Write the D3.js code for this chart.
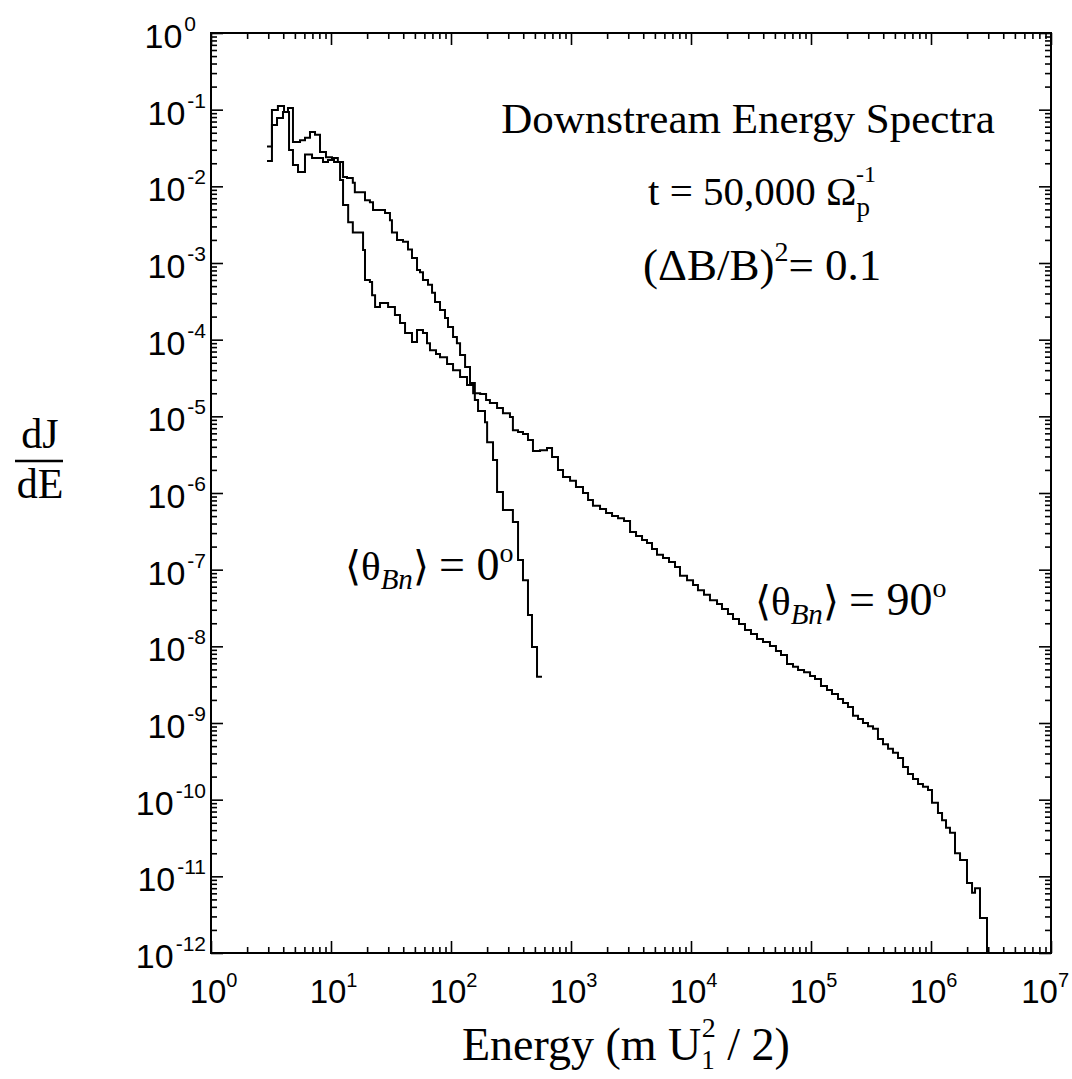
<!DOCTYPE html>
<html>
<head>
<meta charset="utf-8">
<script src="https://cdn.jsdelivr.net/npm/d3@7"></script>
<style>
  body { margin: 0; background: #fff; }
</style>
</head>
<body>
<div id="chart"></div>
<script>
// <θBn> = 0° spectrum (bin left edge, dJ/dE); last point closes the final bin
const energy0 = [2.93, 3.22, 3.55, 3.98, 4.38, 4.82, 5.52, 6.07, 6.68, 7.36, 8.10, 9.08, 10.2, 11.4,
  12.6, 13.6, 15.2, 15.8, 19.2, 21.1, 22.4, 28.2, 31.0, 32.2, 35.5, 39.8, 43.8, 47.3, 52.1, 55.2,
  58.4, 64.3, 69.5, 73.6, 81.0, 89.1, 94.4, 104, 112, 119, 131, 144, 158, 168, 192, 200, 224, 242,
  271, 328, 362, 398, 438, 473, 521, 573];
const flux0 = [0.033, 0.063, 0.078, 0.093, 0.105, 0.038, 0.040, 0.043, 0.051, 0.047, 0.028, 0.024, 0.0234, 0.0208,
  0.0132, 0.0128, 0.0111, 0.0084, 0.0066, 0.0062, 0.0049, 0.0045, 0.0036, 0.0025, 0.0020, 0.0019, 0.0015, 0.00116, 8.1e-4, 7.6e-4,
  6.0e-4, 5.2e-4, 4.1e-4, 3.1e-4, 2.44e-4, 1.92e-4, 1.46e-4, 1.08e-4, 9.0e-5, 6.3e-5, 4.4e-5, 2.72e-5, 1.63e-5, 1.17e-5, 8.4e-6, 4.6e-6, 2.7e-6, 1.03e-6,
  6.0e-7, 4.2e-7, 1.34e-7, 7.3e-8, 2.56e-8, 9.8e-9, 4.0e-9, 4.0e-9];

// <θBn> = 90° spectrum
const energy90 = [2.93, 3.22, 3.61, 4.06, 4.47, 4.82, 5.31, 6.07, 6.95, 7.79, 8.58, 9.44, 10.6, 11.9,
  12.6, 13.9, 15.2, 18.5, 19.2, 21.1, 22.0, 23.3, 25.6, 29.9, 34.1, 37.6, 41.4, 47.3, 52.1, 58.4,
  63.1, 66.8, 75.0, 81.0, 92.7, 104, 119, 136, 153, 175, 196, 211, 242, 271, 310, 328, 362, 398,
  438, 482, 552, 631, 695, 779, 858, 982, 1100, 1259, 1387, 1524, 1746, 1959, 2198, 2466, 2767,
  3105, 3483, 3908, 4297, 4732, 5207, 5845, 6558, 7358, 8095, 9268, 10400, 11430, 12830, 14390,
  16480, 18120, 20330, 22390, 25120, 28180, 31620, 35480, 39810, 45500, 51050, 56230, 63100,
  70790, 77980, 87500, 98200, 108000, 121100, 135900, 149600, 167900, 184900, 203300, 223900,
  246600, 271100, 298500, 328800, 361400, 398100, 438500, 482000, 530900, 584800, 642700, 707900,
  779800, 857000, 944100, 1019000, 1143000, 1236000, 1334000, 1439000, 1585000, 1746000, 1995000,
  2198000, 2328000, 2560000, 2929000];
const flux90 = [0.0214, 0.099, 0.112, 0.093, 0.0298, 0.019, 0.0154, 0.026, 0.0234, 0.0234, 0.0208, 0.0221, 0.0208, 0.0121,
  0.0057, 0.0034, 0.0025, 0.00148, 6.0e-4, 5.65e-4, 3.8e-4, 2.67e-4, 3.0e-4, 2.67e-4, 2.1e-4, 1.65e-4, 1.22e-4, 9.3e-5, 1.34e-4, 1.22e-4,
  9.0e-5, 7.3e-5, 6.5e-5, 5.9e-5, 4.8e-5, 4.0e-5, 3.26e-5, 2.56e-5, 2.0e-5, 1.96e-5, 1.63e-5, 1.49e-5, 1.28e-5, 1.1e-5, 9.8e-6, 6.6e-6, 6.25e-6, 5.9e-6,
  4.9e-6, 3.53e-6, 3.6e-6, 3.86e-6, 2.95e-6, 2.0e-6, 1.62e-6, 1.44e-6, 1.2e-6, 1.0e-6, 8.1e-7, 6.8e-7, 6.2e-7, 5.5e-7, 5.0e-7, 4.7e-7, 4.3e-7,
  3.1e-7, 2.75e-7, 2.44e-7, 2.23e-7, 1.86e-7, 1.56e-7, 1.42e-7, 1.26e-7, 1.08e-7, 8.3e-8, 7.3e-8, 6.3e-8, 5.4e-8, 4.7e-8, 4.0e-8,
  3.56e-8, 3.07e-8, 2.64e-8, 2.27e-8, 1.96e-8, 1.63e-8, 1.45e-8, 1.25e-8, 1.14e-8, 1.01e-8, 8.7e-9, 7.7e-9, 5.9e-9,
  5.4e-9, 4.9e-9, 4.6e-9, 4.1e-9, 3.75e-9, 3.04e-9, 2.7e-9, 2.39e-9, 2.06e-9, 1.82e-9, 1.62e-9, 1.24e-9,
  1.13e-9, 1.0e-9, 9.1e-10, 8.4e-10, 6.2e-10, 5.3e-10, 4.6e-10, 4.1e-10, 3.5e-10, 2.67e-10, 2.16e-10, 1.86e-10,
  1.6e-10, 1.47e-10, 1.34e-10, 9.1e-11, 6.7e-11, 5.4e-11, 4.3e-11, 3.7e-11, 2.0e-11, 1.63e-11, 8.2e-12,
  6.1e-12, 7.0e-12, 2.86e-12, 1e-12];

const xTickExps = [0, 1, 2, 3, 4, 5, 6, 7];
const yTickExps = [0, -1, -2, -3, -4, -5, -6, -7, -8, -9, -10, -11, -12];

const W = 1072, H = 1079;
const margin = { top: 33, right: 21, bottom: 126, left: 211 };
const width = W - margin.left - margin.right;
const height = H - margin.top - margin.bottom;

const svg = d3.select("#chart")
  .append("svg")
  .attr("width", W)
  .attr("height", H)
  .style("background", "#fff");

const g = svg.append("g")
  .attr("transform", `translate(${margin.left},${margin.top})`);

// Scales
const x = d3.scaleLog().domain([1, 1e7]).range([0, width]);
const y = d3.scaleLog().domain([1e-12, 1]).range([height, 0]);

const xMajor = xTickExps.map(e => Math.pow(10, e));
const yMajor = yTickExps.map(e => Math.pow(10, e));
const isPow10 = v => Math.abs(Math.log10(v) - Math.round(Math.log10(v))) < 1e-9;
const xMinor = x.ticks(20).filter(v => !isPow10(v));
const yMinor = y.ticks(40).filter(v => !isPow10(v));

// Inward ticks on all four sides
function tickAxes(axisFn, scale, major, minor, transform) {
  g.append("g").attr("class", "tk").attr("transform", transform)
    .call(axisFn(scale).tickValues(major).tickSize(-12).tickFormat(""));
  g.append("g").attr("class", "tk").attr("transform", transform)
    .call(axisFn(scale).tickValues(minor).tickSize(-6).tickFormat(""));
}
tickAxes(d3.axisBottom, x, xMajor, xMinor, `translate(0,${height})`);
tickAxes(d3.axisTop, x, xMajor, xMinor, "translate(0,0)");
tickAxes(d3.axisLeft, y, yMajor, yMinor, "translate(0,0)");
tickAxes(d3.axisRight, y, yMajor, yMinor, `translate(${width},0)`);

g.selectAll(".tk path").remove();
g.selectAll(".tk line").attr("stroke", "#000").attr("stroke-width", 1.6);

// Frame
g.append("rect")
  .attr("width", width).attr("height", height)
  .attr("fill", "none").attr("stroke", "#000").attr("stroke-width", 2);

// Tick labels
const tickFont = "'Liberation Sans', Arial, sans-serif";
const xLab = g.append("g").attr("font-family", tickFont).attr("fill", "#000");
xMajor.forEach((v, i) => {
  const t = xLab.append("text")
    .attr("y", height + 50)
    .attr("text-anchor", "middle")
    .attr("font-size", 33)
    .text("10");
  const s = xLab.append("text")
    .attr("y", height + 34)
    .attr("font-size", 20)
    .text(xTickExps[i]);
  const w = t.node().getComputedTextLength();
  const sw = s.node().getComputedTextLength();
  // keep the label inside the picture at the right edge
  const cx = Math.min(x(v) - 3, W - margin.left - 3 - sw - w / 2);
  t.attr("x", cx);
  s.attr("x", cx + w / 2);
});

const yLab = g.append("g").attr("font-family", tickFont).attr("fill", "#000");
yMajor.forEach((v, i) => {
  const e = yTickExps[i];
  const sup = yLab.append("text")
    .attr("x", e === 0 ? -15 : -5).attr("y", y(v) - 2)
    .attr("text-anchor", "end")
    .attr("font-size", 21)
    .text(e === 0 ? "0" : "-" + Math.abs(e));
  const sw = sup.node().getComputedTextLength();
  yLab.append("text")
    .attr("x", (e === 0 ? -15 : -5) - sw - 2).attr("y", y(v) + 15)
    .attr("text-anchor", "end")
    .attr("font-size", 34)
    .text("10");
});

// Spectra
const line = d3.line()
  .x(d => x(d.e))
  .y(d => y(d.v))
  .curve(d3.curveStepAfter);

const spec0 = energy0.map((e, i) => ({ e, v: flux0[i] }));
const spec90 = energy90.map((e, i) => ({ e, v: flux90[i] }));

[spec0, spec90].forEach(s => {
  g.append("path")
    .datum(s)
    .attr("d", line)
    .attr("fill", "none")
    .attr("stroke", "#000")
    .attr("stroke-width", 2);
});

// Text annotations
const serif = "'Liberation Serif', 'Times New Roman', serif";
const ann = svg.append("g").attr("font-family", serif).attr("fill", "#000");

ann.append("text")
  .attr("x", 748).attr("y", 133)
  .attr("text-anchor", "middle")
  .attr("font-size", 43)
  .text("Downstream Energy Spectra");

const tline = ann.append("text")
  .attr("x", 648).attr("y", 205)
  .attr("font-size", 41);
tline.append("tspan").text("t = 50,000 \u03A9");
tline.append("tspan").attr("font-size", 27).attr("dy", 11).text("p");
tline.append("tspan").attr("font-size", 24).attr("dx", -14).attr("dy", -34).text("-1");

const bline = ann.append("text")
  .attr("x", 643).attr("y", 280)
  .attr("font-size", 45);
bline.append("tspan").text("(\u0394B/B)");
bline.append("tspan").attr("font-size", 28).attr("dy", -19).text("2");
bline.append("tspan").attr("dy", 19).text("= 0.1");

function thetaLabel(px, py, val) {
  const t = ann.append("text").attr("x", px).attr("y", py).attr("font-size", 41);
  t.append("tspan").text("\u27E8\u03B8");
  t.append("tspan").attr("font-style", "italic").attr("font-size", 29).attr("dy", 9).text("Bn");
  t.append("tspan").attr("dy", -9).text("\u27E9 ");
  t.append("tspan").attr("font-size", 46).text("= " + val);
  t.append("tspan").attr("font-size", 28).attr("dy", -18).text("o");
}
thetaLabel(345, 580, "0");
thetaLabel(755, 615, "90");

// Axis titles
const xt = ann.append("text")
  .attr("x", 462).attr("y", 1060)
  .attr("font-size", 46);
xt.append("tspan").text("Energy (m U");
xt.append("tspan").attr("font-size", 27).attr("dy", 9).text("1");
xt.append("tspan").attr("font-size", 28).attr("dx", -13).attr("dy", -32).text("2");
xt.append("tspan").attr("dy", 23).text(" / 2)");

ann.append("text")
  .attr("x", 40).attr("y", 448)
  .attr("text-anchor", "middle")
  .attr("font-size", 42)
  .text("dJ");
ann.append("line")
  .attr("x1", 15).attr("x2", 63)
  .attr("y1", 461).attr("y2", 461)
  .attr("stroke", "#000").attr("stroke-width", 2.5);
ann.append("text")
  .attr("x", 40).attr("y", 498)
  .attr("text-anchor", "middle")
  .attr("font-size", 42)
  .text("dE");
</script>
</body>
</html>
